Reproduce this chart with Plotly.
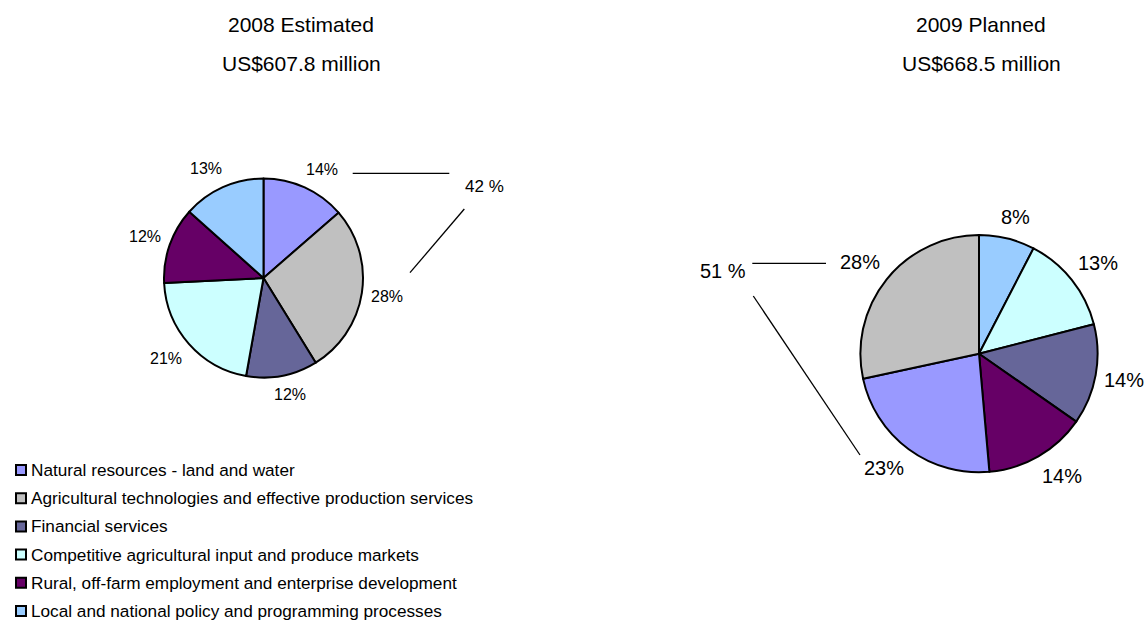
import math
import plotly.graph_objects as go

W, H = 1146, 623

# ---------------- data ----------------
categories = [
    "Natural resources - land and water",
    "Agricultural technologies and effective production services",
    "Financial services",
    "Competitive agricultural input and produce markets",
    "Rural, off-farm employment and enterprise development",
    "Local and national policy and programming processes",
]
category_colors = ["#9999FF", "#C0C0C0", "#666699", "#CCFFFF", "#660066", "#99CCFF"]

# shares in % (labels show rounded values)
labels_2008 = [
    "Natural resources - land and water",
    "Agricultural technologies and effective production services",
    "Financial services",
    "Competitive agricultural input and produce markets",
    "Rural, off-farm employment and enterprise development",
    "Local and national policy and programming processes",
]
values_2008 = [13.6, 27.6, 11.6, 21.4, 12.4, 13.4]

labels_2009 = [
    "Local and national policy and programming processes",
    "Competitive agricultural input and produce markets",
    "Financial services",
    "Rural, off-farm employment and enterprise development",
    "Natural resources - land and water",
    "Agricultural technologies and effective production services",
]
values_2009 = [7.6, 13.4, 13.7, 13.9, 23.0, 28.4]

titles_2008 = ["2008 Estimated", "US$607.8 million"]
titles_2009 = ["2009 Planned", "US$668.5 million"]
group_2008 = "42 %"
group_2009 = "51 %"

# ---------------- layout helpers ----------------
FONT = "Arial, Liberation Sans, sans-serif"
color_of = dict(zip(categories, category_colors))


def px(x):
    return x / W


def py(y):
    return 1 - y / H


def clamp(v):
    return max(-1.0, min(1.0, v))


# pie geometry (pixels)
pies = [
    dict(labels=labels_2008, values=values_2008, cx=263.5, cy=278.0, r=99.5,
         fs=16, gx=9.0, gy=13.0, name="2008 Estimated"),
    dict(labels=labels_2009, values=values_2009, cx=979.0, cy=353.7, r=118.6,
         fs=20, gx=8.0, gy=14.0, name="2009 Planned"),
]

fig = go.Figure()
annotations = []
shapes = []

for p in pies:
    fig.add_trace(go.Pie(
        labels=p["labels"],
        values=p["values"],
        name=p["name"],
        sort=False,
        direction="clockwise",
        rotation=0,
        marker=dict(colors=[color_of[l] for l in p["labels"]],
                    line=dict(color="black", width=2)),
        textinfo="none",
        hoverinfo="label+percent",
        showlegend=False,
        domain=dict(x=[px(p["cx"] - p["r"]), px(p["cx"] + p["r"])],
                    y=[py(p["cy"] + p["r"]), py(p["cy"] - p["r"])]),
    ))
    total = sum(p["values"])
    cum = 0
    for v in p["values"]:
        mid = (cum + v / 2) / total * 2 * math.pi
        cum += v
        txt = f"{100 * v / total:.0f}%"
        fs = p["fs"]
        hw = fs * (0.556 * (len(txt) - 1) + 0.889) / 2
        hh = 0.4 * fs
        s, c = math.sin(mid), math.cos(mid)
        x = p["cx"] + (p["r"] + p["gx"]) * s + hw * clamp(2 * s)
        y = p["cy"] - (p["r"] + p["gy"]) * c - hh * clamp(2 * c)
        annotations.append(dict(
            x=px(x), y=py(y), xref="paper", yref="paper",
            text=txt, showarrow=False, borderpad=0,
            xanchor="center", yanchor="middle",
            font=dict(family=FONT, size=fs, color="black")))

# titles
for (t1, t2), xc in ((titles_2008, 301), (titles_2009, 981)):
    annotations.append(dict(x=px(xc), y=py(24.5), xref="paper", yref="paper",
                            text=t1, showarrow=False, xanchor="center", yanchor="middle",
                            font=dict(family=FONT, size=21, color="black")))
    annotations.append(dict(x=px(xc), y=py(63.5), xref="paper", yref="paper",
                            text=t2, showarrow=False, xanchor="center", yanchor="middle",
                            font=dict(family=FONT, size=21, color="black")))

# grouped-share call-outs
annotations.append(dict(x=px(484), y=py(186), xref="paper", yref="paper",
                        text=group_2008, showarrow=False, xanchor="center", yanchor="middle",
                        font=dict(family=FONT, size=17, color="black")))
annotations.append(dict(x=px(722.7), y=py(271), xref="paper", yref="paper",
                        text=group_2009, showarrow=False, xanchor="center", yanchor="middle",
                        font=dict(family=FONT, size=20, color="black")))

for (x0, y0, x1, y1) in [(352.7, 173.3, 449.3, 173.3), (464.3, 209, 410, 272.7),
                         (752.3, 263.3, 826, 263.3), (753.3, 296, 860, 455)]:
    shapes.append(dict(type="line", xref="paper", yref="paper",
                       x0=px(x0), y0=py(y0), x1=px(x1), y1=py(y1),
                       line=dict(color="black", width=1.3)))

# legend (category keys)
for i, (cat, col) in enumerate(zip(categories, category_colors)):
    yc = 470.0 + 28.2 * i
    shapes.append(dict(type="rect", xref="paper", yref="paper",
                       x0=px(16), x1=px(26), y0=py(yc + 5), y1=py(yc - 5),
                       fillcolor=col, line=dict(color="black", width=2)))
    annotations.append(dict(x=px(30), y=py(yc), xref="paper", yref="paper",
                            text=cat, showarrow=False, borderpad=0,
                            xanchor="left", yanchor="middle",
                            font=dict(family=FONT, size=17.2, color="black")))

fig.update_layout(
    width=W, height=H,
    margin=dict(l=0, r=0, t=0, b=0),
    paper_bgcolor="white", plot_bgcolor="white",
    annotations=annotations, shapes=shapes,
    showlegend=False,
    font=dict(family=FONT, color="black"),
)

fig.write_html("out.html")
